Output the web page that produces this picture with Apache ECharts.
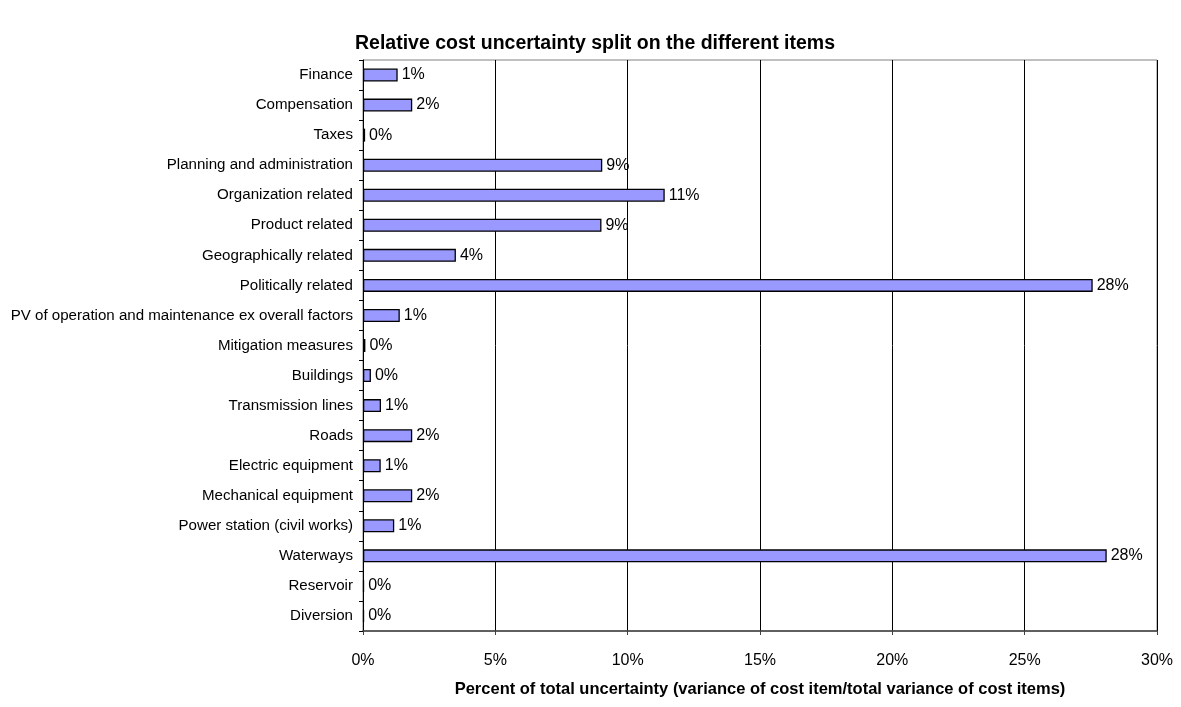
<!DOCTYPE html>
<html>
<head>
<meta charset="utf-8">
<script src="https://cdn.jsdelivr.net/npm/echarts@6/dist/echarts.min.js"></script>
<style>html,body{margin:0;padding:0;background:#fff}#c{width:1181px;height:707px}</style>
</head>
<body>
<div id="c"></div>
<script>
var categories = ["Finance","Compensation","Taxes","Planning and administration","Organization related","Product related","Geographically related","Politically related","PV of operation and maintenance ex overall factors","Mitigation measures","Buildings","Transmission lines","Roads","Electric equipment","Mechanical equipment","Power station (civil works)","Waterways","Reservoir","Diversion"];
var values = [1.31,1.86,0.08,9.04,11.40,9.01,3.51,27.57,1.39,0.09,0.30,0.68,1.86,0.67,1.86,1.18,28.10,0.04,0.04];
var xTicks = [0,5,10,15,20,25,30];
var titleText = "Relative cost uncertainty split on the different items";
var xAxisTitle = "Percent of total uncertainty (variance of cost item/total variance of cost items)";

var chart = echarts.init(document.getElementById('c'));
var F = 'Liberation Sans, Arial, sans-serif';
chart.setOption({
  animation: false,
  backgroundColor: '#fff',
  title: {
    text: titleText, left: 590, top: 29, textAlign: 'center',
    textStyle: {fontFamily: F, fontSize: 19.5, fontWeight: 'bold', color: '#000'}
  },
  grid: {left: 363, right: 24, top: 60, bottom: 76, show: true, borderColor: '#808080', borderWidth: 1, containLabel: false},
  xAxis: {
    type: 'value', min: xTicks[0], max: xTicks[xTicks.length-1], interval: 5,
    name: xAxisTitle, nameLocation: 'middle', nameGap: 50,
    nameTextStyle: {fontFamily: F, fontSize: 16.5, fontWeight: 'bold', color: '#000'},
    axisLine: {show: true, lineStyle: {color: '#404040', width: 1.5}},
    axisTick: {show: true, length: 4, lineStyle: {color: '#404040'}},
    axisLabel: {fontFamily: F, fontSize: 16, color: '#000', margin: 22, formatter: '{value}%'},
    splitLine: {show: true, lineStyle: {color: '#000', width: 1}}
  },
  yAxis: {
    type: 'category', data: categories, inverse: true,
    axisLine: {show: true, lineStyle: {color: '#000', width: 1}},
    axisTick: {show: true, length: 4, lineStyle: {color: '#000'}},
    axisLabel: {fontFamily: F, fontSize: 15.1, color: '#000', margin: 10}
  },
  series: [{
    type: 'bar', data: values, barWidth: 13,
    itemStyle: {color: '#9999FF', borderColor: '#000', borderWidth: 1.3},
    label: {show: true, position: 'right', distance: 4, fontFamily: F, fontSize: 16, color: '#000',
      formatter: function(p){ return Math.round(p.value) + '%'; }}
  }]
});
</script>
</body>
</html>
